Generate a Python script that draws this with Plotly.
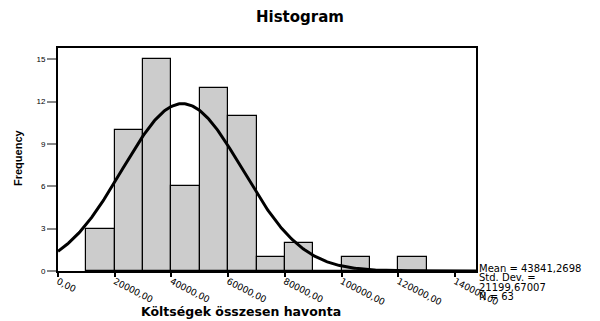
import numpy as np
import plotly.graph_objects as go

bin_starts = [10000, 20000, 30000, 40000, 50000, 60000, 70000, 80000, 90000, 100000, 110000, 120000]
counts = [3, 10, 15, 6, 13, 11, 1, 2, 0, 1, 0, 1]
bin_width = 10000
mean_val = 43841.2698
std_val = 21199.67007
n_val = 63
x_ticks = [0, 20000, 40000, 60000, 80000, 100000, 120000, 140000]
x_tick_labels = ["0,00", "20000,00", "40000,00", "60000,00", "80000,00", "100000,00", "120000,00", "140000,00"]
y_ticks = [0, 3, 6, 9, 12, 15]

centers = [s + bin_width / 2 for s in bin_starts]
x_range = [0, 147400]

xs = np.linspace(x_range[0], x_range[1], 400)
ys = n_val * bin_width / (std_val * np.sqrt(2 * np.pi)) * np.exp(-0.5 * ((xs - mean_val) / std_val) ** 2)

fig = go.Figure()
fig.add_trace(go.Bar(x=centers, y=counts, width=bin_width,
                     marker=dict(color="#cccccc", line=dict(color="black", width=1.2)),
                     hoverinfo="skip"))
fig.add_trace(go.Scatter(x=xs, y=ys, mode="lines", line=dict(color="black", width=3), hoverinfo="skip"))

font_family = "Liberation Sans, Arial, sans-serif"
wide_family = "DejaVu Sans, Verdana, sans-serif"
T, B, L, R = 48, 50, 58, 124
ph = 321 - T - B
pw = 600 - L - R
fig.update_layout(
    width=600, height=321,
    margin=dict(l=L, r=R, t=T, b=B, autoexpand=False),
    paper_bgcolor="white", plot_bgcolor="white",
    showlegend=False,
    bargap=0,
    font=dict(family=font_family, color="black"),
    title=dict(text="<b>Histogram</b>", x=0.5, xanchor="center", y=0.947, yanchor="middle",
               font=dict(size=15, family=wide_family, color="black")),
    xaxis=dict(
        range=x_range, tickmode="array", tickvals=x_ticks, ticktext=x_tick_labels,
        tickangle=27, tickfont=dict(size=9, family=wide_family, color="black"),
        ticks="",
        showline=True, linecolor="black", linewidth=2, mirror=True,
        showgrid=False, zeroline=False, automargin=False,
    ),
    xaxis2=dict(
        range=x_range, tickmode="array", tickvals=x_ticks, overlaying="x", side="bottom",
        showticklabels=False, ticks="outside", ticklen=5, tickwidth=1.5, tickcolor="black",
        showline=False, showgrid=False, zeroline=False, automargin=False,
    ),
    yaxis=dict(
        range=[0, 15.8], tickmode="array", tickvals=y_ticks,
        tickfont=dict(size=8, family=font_family, color="black"),
        ticks="outside", ticklen=9, tickwidth=1.5, tickcolor="#888",
        showline=True, linecolor="black", linewidth=2, mirror=True,
        showgrid=False, zeroline=False, automargin=False,
    ),
)
# invisible trace to activate the tick-mark axis
fig.add_trace(go.Scatter(x=[x_range[0]], y=[0], xaxis="x2", mode="markers",
                         marker=dict(opacity=0), hoverinfo="skip"))

fig.add_annotation(text="<b>Költségek összesen havonta</b>", xref="paper", yref="paper",
                   x=(241 - L) / pw, xanchor="center",
                   y=(321 - B - 311) / ph, yanchor="middle", showarrow=False,
                   font=dict(size=12.5, family=wide_family, color="black"))
fig.add_annotation(text="<b>Frequency</b>", xref="paper", yref="paper", textangle=-90,
                   x=(18 - L) / pw, xanchor="center",
                   y=(321 - B - 158) / ph, yanchor="middle", showarrow=False,
                   font=dict(size=11, family=font_family, color="black"))

stats_lines = ["Mean = 43841,2698", "Std. Dev. =", "21199,67007", "N = 63"]
stats_y = [268, 277.5, 287, 296]
for txt, py in zip(stats_lines, stats_y):
    fig.add_annotation(text=txt, xref="paper", yref="paper", x=(477 - L) / pw, xanchor="left",
                       y=(321 - B - py) / ph, yanchor="middle",
                       showarrow=False, font=dict(size=10, family=wide_family, color="black"))

fig.write_html("out.html")
